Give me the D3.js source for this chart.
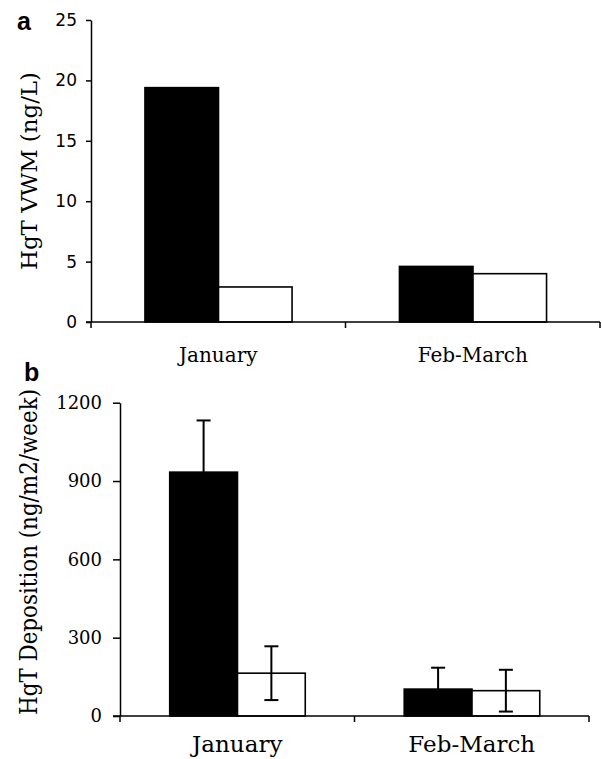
<!DOCTYPE html>
<html>
<head>
<meta charset="utf-8">
<script src="https://cdn.jsdelivr.net/npm/d3@7"></script>
<style>
  body { margin: 0; background: #fff; }
  svg { display: block; }
</style>
</head>
<body>
<div id="chart"></div>
<script>
// values
var categories = ["January", "Feb-March"];
var series = ["filled", "open"];

var vwmFilled = [19.4, 4.6];
var vwmOpen = [2.9, 4.0];
var vwmTicks = [0, 5, 10, 15, 20, 25];

var depFilled = [934, 103];
var depOpen = [164, 97];
var depFilledErr = [198, 82];
var depOpenErr = [103, 80];
var depTicks = [0, 300, 600, 900, 1200];

var width = 602, height = 759;

var svg = d3.select("#chart").append("svg")
  .attr("width", width)
  .attr("height", height);

function drawPanel(p) {
  var g = svg.append("g");

  var x = d3.scaleBand().domain(categories).range([p.left, p.right]);
  var bw = x.bandwidth();
  var xs = d3.scaleBand().domain(series).range([bw * 0.212, bw * 0.79]);
  var y = d3.scaleLinear().domain([0, p.max]).range([p.bottom, p.top]);

  var rows = categories.map(function(c, i) {
    return series.map(function(s, j) {
      return { cat: c, ser: s, v: p.values[j][i], e: p.errors ? p.errors[j][i] : null };
    });
  });
  rows = d3.merge(rows);

  // bars
  g.selectAll("rect.bar")
    .data(rows)
    .enter().append("rect")
      .attr("class", "bar")
      .attr("x", function(d) { return x(d.cat) + xs(d.ser); })
      .attr("y", function(d) { return y(d.v); })
      .attr("width", xs.bandwidth())
      .attr("height", function(d) { return y(0) - y(d.v); })
      .attr("fill", function(d) { return d.ser == "filled" ? "#000" : "#fff"; })
      .attr("stroke", "#000")
      .attr("stroke-width", 1.6);

  // error bars
  if (p.errors) {
    var eb = g.selectAll("g.err")
      .data(rows)
      .enter().append("g")
        .attr("class", "err")
        .attr("stroke", "#000")
        .attr("stroke-width", 2)
        .attr("transform", function(d) {
          return "translate(" + (x(d.cat) + xs(d.ser) + xs.bandwidth() / 2) + ",0)";
        });
    eb.append("line")
      .attr("y1", function(d) { return y(d.v - d.e); })
      .attr("y2", function(d) { return y(d.v + d.e); });
    eb.append("line")
      .attr("x1", -7).attr("x2", 7)
      .attr("y1", function(d) { return y(d.v + d.e); })
      .attr("y2", function(d) { return y(d.v + d.e); });
    eb.append("line")
      .attr("x1", -7).attr("x2", 7)
      .attr("y1", function(d) { return y(d.v - d.e); })
      .attr("y2", function(d) { return y(d.v - d.e); });
  }

  // y axis
  var yAxis = g.append("g")
    .attr("transform", "translate(" + p.left + ",0)")
    .call(d3.axisLeft(y).tickValues(p.ticks).tickFormat(d3.format("d"))
      .tickSize(p.tickSize).tickSizeOuter(0).tickPadding(p.tickPad));
  yAxis.selectAll("path, line").attr("stroke", "#000").attr("stroke-width", 1.5);
  yAxis.selectAll("text")
    .attr("fill", "#000")
    .style("font-family", p.tickFont)
    .style("font-size", p.tickFontSize + "px");

  // x axis: baseline with ticks at the category boundaries
  var bounds = categories.map(function(c) { return x(c); }).concat([p.right]);
  g.append("line")
    .attr("x1", p.left - p.tickSize).attr("x2", p.right)
    .attr("y1", y(0)).attr("y2", y(0))
    .attr("stroke", "#000").attr("stroke-width", 1.5);
  g.selectAll("line.xtick")
    .data(bounds)
    .enter().append("line")
      .attr("class", "xtick")
      .attr("x1", function(d) { return d; })
      .attr("x2", function(d) { return d; })
      .attr("y1", y(0)).attr("y2", y(0) + 6)
      .attr("stroke", "#000").attr("stroke-width", 1.5);

  g.selectAll("text.cat")
    .data(categories)
    .enter().append("text")
      .attr("class", "cat")
      .attr("x", function(d) { return x(d) + bw / 2; })
      .attr("y", p.catY)
      .attr("text-anchor", "middle")
      .style("font-family", "DejaVu Serif")
      .style("font-size", p.catSize + "px")
      .text(function(d) { return d; });

  // y title
  g.append("text")
    .attr("transform", "translate(" + p.titleX + "," + p.titleY + ") rotate(-90)")
    .attr("text-anchor", "middle")
    .attr("textLength", p.titleLen)
    .attr("lengthAdjust", "spacingAndGlyphs")
    .style("font-family", "DejaVu Serif")
    .style("font-size", p.titleSize + "px")
    .text(p.title);

  // panel letter
  g.append("text")
    .attr("x", p.letterX).attr("y", p.letterY)
    .style("font-family", "Liberation Sans")
    .style("font-weight", "bold")
    .style("font-size", "25px")
    .text(p.letter);
}

drawPanel({
  letter: "a", letterX: 17, letterY: 30,
  left: 91, right: 600, top: 20, bottom: 322,
  max: 25, ticks: vwmTicks,
  values: [vwmFilled, vwmOpen],
  tickSize: 5, tickPad: 9, tickFont: "DejaVu Sans", tickFontSize: 17,
  catY: 362, catSize: 20,
  title: "HgT VWM (ng/L)", titleX: 37, titleY: 171, titleSize: 22, titleLen: 198
});

drawPanel({
  letter: "b", letterX: 24, letterY: 381,
  left: 120, right: 589, top: 402.7, bottom: 716,
  max: 1200, ticks: depTicks,
  values: [depFilled, depOpen],
  errors: [depFilledErr, depOpenErr],
  tickSize: 7, tickPad: 11, tickFont: "DejaVu Serif", tickFontSize: 18,
  catY: 752, catSize: 23,
  title: "HgT Deposition (ng/m2/week)", titleX: 37, titleY: 552, titleSize: 24, titleLen: 326
});
</script>
</body>
</html>
